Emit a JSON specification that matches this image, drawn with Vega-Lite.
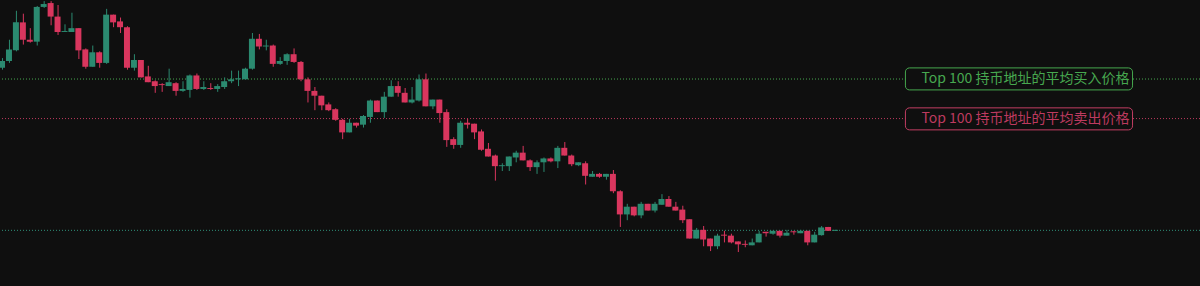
{
  "$schema": "https://vega.github.io/schema/vega-lite/v6.json",
  "width": 1200,
  "height": 286,
  "autosize": {"type": "none", "contains": "padding"},
  "padding": 0,
  "background": "#0f0f0f",
  "config": {"view": {"stroke": null}, "padding": 0},
  "datasets": {
    "candles": [
      {"i": -1, "o": 225, "h": 235, "l": 223, "c": 232},
      {"i": 0, "o": 232, "h": 254, "l": 230, "c": 244},
      {"i": 1, "o": 243, "h": 284, "l": 242, "c": 272},
      {"i": 2, "o": 272, "h": 281, "l": 249, "c": 254},
      {"i": 3, "o": 254, "h": 266, "l": 251, "c": 252},
      {"i": 4, "o": 252, "h": 289, "l": 248, "c": 288},
      {"i": 5, "o": 288, "h": 294, "l": 287, "c": 291},
      {"i": 6, "o": 292, "h": 294, "l": 269, "c": 278},
      {"i": 7, "o": 278, "h": 290, "l": 259, "c": 262},
      {"i": 8, "o": 262, "h": 270, "l": 262, "c": 263},
      {"i": 9, "o": 262, "h": 282, "l": 262, "c": 266},
      {"i": 10, "o": 266, "h": 266, "l": 234, "c": 243},
      {"i": 11, "o": 244, "h": 245, "l": 224, "c": 226},
      {"i": 12, "o": 226, "h": 248, "l": 226, "c": 241},
      {"i": 13, "o": 241, "h": 242, "l": 225, "c": 230},
      {"i": 14, "o": 230, "h": 286, "l": 229, "c": 280},
      {"i": 15, "o": 280, "h": 280, "l": 267, "c": 272},
      {"i": 16, "o": 273, "h": 277, "l": 261, "c": 267},
      {"i": 17, "o": 267, "h": 268, "l": 223, "c": 225},
      {"i": 18, "o": 225, "h": 239, "l": 222, "c": 233},
      {"i": 19, "o": 233, "h": 233, "l": 215, "c": 215},
      {"i": 20, "o": 216, "h": 227, "l": 210, "c": 210},
      {"i": 21, "o": 211, "h": 212, "l": 199, "c": 206},
      {"i": 22, "o": 208, "h": 209, "l": 200, "c": 207},
      {"i": 23, "o": 206, "h": 224, "l": 206, "c": 210},
      {"i": 24, "o": 209, "h": 210, "l": 196, "c": 201},
      {"i": 25, "o": 201, "h": 211, "l": 200, "c": 203},
      {"i": 26, "o": 202, "h": 218, "l": 194, "c": 217},
      {"i": 27, "o": 217, "h": 219, "l": 202, "c": 203},
      {"i": 28, "o": 203, "h": 211, "l": 202, "c": 205},
      {"i": 29, "o": 204, "h": 209, "l": 202, "c": 203},
      {"i": 30, "o": 203, "h": 208, "l": 200, "c": 206},
      {"i": 31, "o": 205, "h": 215, "l": 203, "c": 211},
      {"i": 32, "o": 211, "h": 222, "l": 209, "c": 213},
      {"i": 33, "o": 213, "h": 222, "l": 206, "c": 214},
      {"i": 34, "o": 213, "h": 225, "l": 213, "c": 224},
      {"i": 35, "o": 224, "h": 261, "l": 223, "c": 255},
      {"i": 36, "o": 255, "h": 260, "l": 244, "c": 247},
      {"i": 37, "o": 247, "h": 254, "l": 243, "c": 248},
      {"i": 38, "o": 248, "h": 249, "l": 226, "c": 229},
      {"i": 39, "o": 229, "h": 236, "l": 228, "c": 232},
      {"i": 40, "o": 232, "h": 240, "l": 228, "c": 239},
      {"i": 41, "o": 239, "h": 245, "l": 230, "c": 231},
      {"i": 42, "o": 231, "h": 232, "l": 211, "c": 213},
      {"i": 43, "o": 213, "h": 215, "l": 189, "c": 201},
      {"i": 44, "o": 201, "h": 205, "l": 181, "c": 196},
      {"i": 45, "o": 196, "h": 196, "l": 181, "c": 186},
      {"i": 46, "o": 187, "h": 189, "l": 180, "c": 181},
      {"i": 47, "o": 182, "h": 183, "l": 170, "c": 171},
      {"i": 48, "o": 171, "h": 172, "l": 151, "c": 158},
      {"i": 49, "o": 158, "h": 172, "l": 158, "c": 168},
      {"i": 50, "o": 168, "h": 168, "l": 163, "c": 165},
      {"i": 51, "o": 166, "h": 176, "l": 163, "c": 175},
      {"i": 52, "o": 174, "h": 192, "l": 168, "c": 191},
      {"i": 53, "o": 191, "h": 191, "l": 179, "c": 179},
      {"i": 54, "o": 179, "h": 200, "l": 173, "c": 195},
      {"i": 55, "o": 195, "h": 212, "l": 195, "c": 206},
      {"i": 56, "o": 206, "h": 211, "l": 195, "c": 199},
      {"i": 57, "o": 199, "h": 204, "l": 189, "c": 189},
      {"i": 58, "o": 189, "h": 205, "l": 188, "c": 192},
      {"i": 59, "o": 191, "h": 218, "l": 190, "c": 213},
      {"i": 60, "o": 213, "h": 219, "l": 185, "c": 185},
      {"i": 61, "o": 185, "h": 192, "l": 182, "c": 192},
      {"i": 62, "o": 192, "h": 192, "l": 168, "c": 178},
      {"i": 63, "o": 179, "h": 182, "l": 143, "c": 150},
      {"i": 64, "o": 151, "h": 153, "l": 141, "c": 145},
      {"i": 65, "o": 145, "h": 170, "l": 142, "c": 168},
      {"i": 66, "o": 168, "h": 172, "l": 162, "c": 166},
      {"i": 67, "o": 167, "h": 167, "l": 151, "c": 158},
      {"i": 68, "o": 159, "h": 161, "l": 139, "c": 140},
      {"i": 69, "o": 141, "h": 147, "l": 133, "c": 133},
      {"i": 70, "o": 134, "h": 135, "l": 108, "c": 123},
      {"i": 71, "o": 123, "h": 126, "l": 118, "c": 124},
      {"i": 72, "o": 123, "h": 133, "l": 118, "c": 133},
      {"i": 73, "o": 132, "h": 139, "l": 127, "c": 137},
      {"i": 74, "o": 137, "h": 144, "l": 129, "c": 129},
      {"i": 75, "o": 129, "h": 130, "l": 118, "c": 122},
      {"i": 76, "o": 122, "h": 129, "l": 115, "c": 127},
      {"i": 77, "o": 127, "h": 132, "l": 117, "c": 131},
      {"i": 78, "o": 131, "h": 132, "l": 127, "c": 128},
      {"i": 79, "o": 128, "h": 144, "l": 121, "c": 142},
      {"i": 80, "o": 142, "h": 148, "l": 134, "c": 134},
      {"i": 81, "o": 134, "h": 135, "l": 123, "c": 125},
      {"i": 82, "o": 124, "h": 127, "l": 123, "c": 127},
      {"i": 83, "o": 126, "h": 128, "l": 104, "c": 113},
      {"i": 84, "o": 112, "h": 118, "l": 112, "c": 115},
      {"i": 85, "o": 115, "h": 116, "l": 111, "c": 112},
      {"i": 86, "o": 112, "h": 115, "l": 109, "c": 115},
      {"i": 87, "o": 115, "h": 119, "l": 95, "c": 97},
      {"i": 88, "o": 97, "h": 98, "l": 60, "c": 73},
      {"i": 89, "o": 73, "h": 84, "l": 67, "c": 81},
      {"i": 90, "o": 81, "h": 81, "l": 71, "c": 72},
      {"i": 91, "o": 72, "h": 86, "l": 69, "c": 84},
      {"i": 92, "o": 84, "h": 84, "l": 77, "c": 77},
      {"i": 93, "o": 77, "h": 86, "l": 75, "c": 84},
      {"i": 94, "o": 83, "h": 94, "l": 83, "c": 89},
      {"i": 95, "o": 89, "h": 92, "l": 81, "c": 81},
      {"i": 96, "o": 81, "h": 86, "l": 77, "c": 77},
      {"i": 97, "o": 78, "h": 82, "l": 64, "c": 67},
      {"i": 98, "o": 68, "h": 68, "l": 48, "c": 48},
      {"i": 99, "o": 48, "h": 59, "l": 48, "c": 57},
      {"i": 100, "o": 57, "h": 61, "l": 40, "c": 47},
      {"i": 101, "o": 48, "h": 48, "l": 35, "c": 40},
      {"i": 102, "o": 40, "h": 53, "l": 37, "c": 51},
      {"i": 103, "o": 52, "h": 56, "l": 44, "c": 51},
      {"i": 104, "o": 51, "h": 53, "l": 43, "c": 44},
      {"i": 105, "o": 45, "h": 45, "l": 34, "c": 42},
      {"i": 106, "o": 42.5, "h": 46, "l": 39, "c": 41.5},
      {"i": 107, "o": 41, "h": 48, "l": 41, "c": 44},
      {"i": 108, "o": 44, "h": 56, "l": 44, "c": 53},
      {"i": 109, "o": 55, "h": 55, "l": 50, "c": 53.5},
      {"i": 110, "o": 53, "h": 56, "l": 52, "c": 56},
      {"i": 111, "o": 56, "h": 56, "l": 49, "c": 51},
      {"i": 112, "o": 51, "h": 57, "l": 51, "c": 54},
      {"i": 113, "o": 55.5, "h": 56, "l": 52, "c": 54.5},
      {"i": 114, "o": 53.5, "h": 57, "l": 53.5, "c": 56},
      {"i": 115, "o": 56, "h": 56, "l": 41, "c": 44},
      {"i": 116, "o": 44, "h": 55, "l": 44, "c": 52},
      {"i": 117, "o": 51.5, "h": 61, "l": 51, "c": 59.5},
      {"i": 118, "o": 60, "h": 60, "l": 56, "c": 56},
      {"i": 119, "o": 56, "h": 57, "l": 56, "c": 57}
    ],
    "levels": [
      {"kind": "buy", "price": 213.3},
      {"kind": "sell", "price": 172.3},
      {"kind": "last", "price": 56.5}
    ],
    "labels": [
      {"kind": "buy", "price": 213.4, "from": 129.14, "to": 161.86, "label": "Top 100 持币地址的平均买入价格"},
      {"kind": "sell", "price": 172.0, "from": 129.14, "to": 161.86, "label": "Top 100 持币地址的平均卖出价格"}
    ]
  },
  "layer": [
    {
      "data": {"name": "levels"},
      "mark": {"type": "rule", "strokeWidth": 1, "strokeDash": [1, 2]},
      "encoding": {
        "y": {"field": "price", "type": "quantitative", "axis": null},
        "color": {
          "field": "kind", "type": "nominal", "legend": null,
          "scale": {"domain": ["buy", "sell", "last"], "range": ["#47a84f", "#bd3a5f", "#2f917a"]}
        }
      }
    },
    {
      "data": {"name": "candles"},
      "mark": {"type": "rule", "strokeWidth": 1, "xOffset": 0.5, "clip": true},
      "encoding": {
        "x": {"field": "i", "type": "quantitative", "axis": null,
              "scale": {"domain": [-0.571428571, 170.857142857], "nice": false, "zero": false}},
        "y": {"field": "l", "type": "quantitative", "axis": null,
              "scale": {"domain": [4, 290], "nice": false, "zero": false}},
        "y2": {"field": "h"},
        "color": {"condition": {"test": "datum.c >= datum.o", "value": "#2b8a70"}, "value": "#d9365e"}
      }
    },
    {
      "data": {"name": "candles"},
      "mark": {"type": "bar", "width": 6, "orient": "vertical", "clip": true},
      "encoding": {
        "x": {"field": "i", "type": "quantitative", "axis": null},
        "y": {"field": "o", "type": "quantitative", "axis": null},
        "y2": {"field": "c"},
        "color": {"condition": {"test": "datum.c >= datum.o", "value": "#2b8a70"}, "value": "#d9365e"}
      }
    },
    {
      "data": {"name": "labels"},
      "mark": {"type": "bar", "orient": "horizontal", "height": 22, "cornerRadius": 4, "fill": "#0f0f0f", "strokeWidth": 1},
      "encoding": {
        "x": {"field": "from", "type": "quantitative", "axis": null},
        "x2": {"field": "to"},
        "y": {"field": "price", "type": "quantitative", "axis": null},
        "stroke": {
          "field": "kind", "type": "nominal", "legend": null,
          "scale": {"domain": ["buy", "sell"], "range": ["#46a84e", "#c23e63"]}
        }
      }
    },
    {
      "data": {"name": "labels"},
      "mark": {"type": "text", "align": "left", "baseline": "middle", "dx": 16, "fontSize": 14, "font": "Noto Sans CJK SC"},
      "encoding": {
        "x": {"field": "from", "type": "quantitative", "axis": null},
        "y": {"field": "price", "type": "quantitative", "axis": null},
        "text": {"field": "label"},
        "color": {
          "field": "kind", "type": "nominal", "legend": null,
          "scale": {"domain": ["buy", "sell"], "range": ["#4aa552", "#c83f66"]}
        }
      }
    }
  ]
}
